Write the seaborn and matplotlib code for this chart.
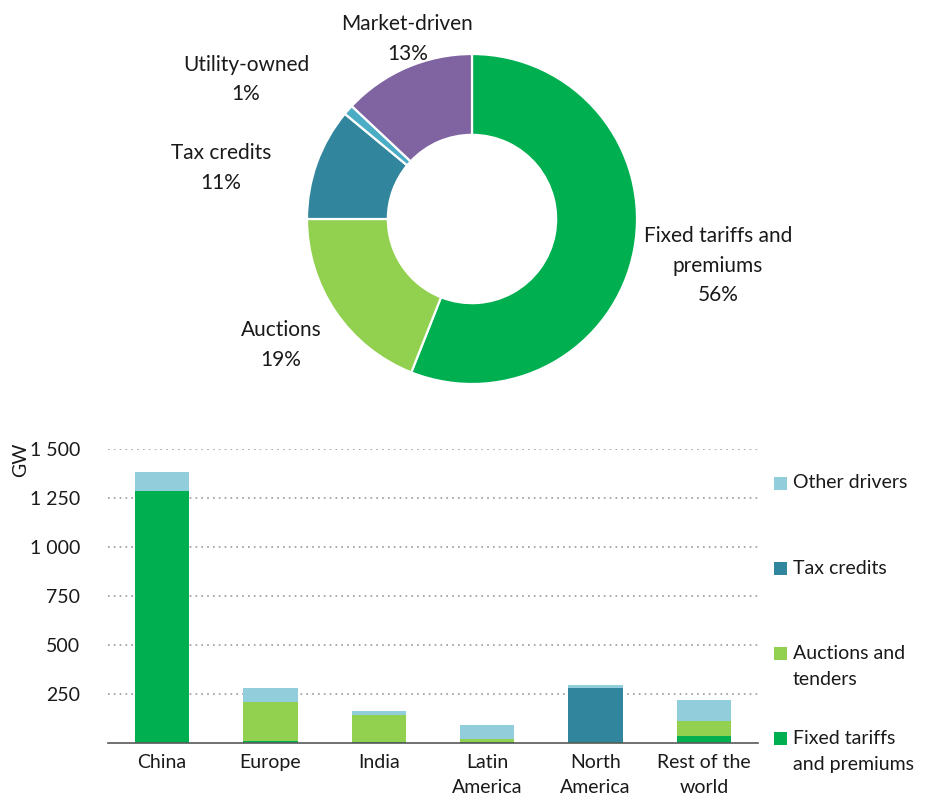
import matplotlib
matplotlib.use("Agg")
import matplotlib.pyplot as plt
from matplotlib.patches import Rectangle
import numpy as np
import pandas as pd
import seaborn as sns

# Share of renewable capacity additions by policy driver (donut)
pie_labels = ["Fixed tariffs and\npremiums", "Auctions", "Tax credits", "Utility-owned", "Market-driven"]
pie_shares = [56, 19, 11, 1, 13]
pie_colors = ["#00AF50", "#92D050", "#31859C", "#4BACC6", "#8064A2"]

# Capacity additions by region and driver (GW, stacked bars)
regions = ["China", "Europe", "India", "Latin\nAmerica", "North\nAmerica", "Rest of the\nworld"]
fixed_tariffs = [1286, 12, 3, 3, 3, 37]
auctions = [0, 199, 138, 16, 2, 77]
tax_credits = [0, 0, 0, 0, 277, 0]
other_drivers = [95, 71, 22, 74, 14, 105]

series_names = ["Fixed tariffs\nand premiums", "Auctions and\ntenders", "Tax credits", "Other drivers"]
series_colors = ["#00AF50", "#92D050", "#31859C", "#92CDDC"]

y_ticks = [250, 500, 750, 1000, 1250, 1500]
y_ticklabels = ["250", "500", "750", "1 000", "1 250", "1 500"]

sns.set_theme(style="white")
plt.rcParams["font.family"] = ["Lato", "DejaVu Sans"]
FS = 14
TXT = "#1a1a1a"

W, H = 928, 798
fig = plt.figure(figsize=(W / 100, H / 100), dpi=100)


def fx(px):
    return px / W


def fy(py):
    return 1 - py / H


# ---- Donut ----
cx, cy, R = 472, 219, 165
ax_pie = fig.add_axes([fx(cx - R), fy(cy + R), 2 * R / W, 2 * R / H])
ax_pie.pie(pie_shares, colors=pie_colors, startangle=90, counterclock=False,
           radius=1.0, wedgeprops=dict(width=0.49, edgecolor="white", linewidth=1.6))
ax_pie.set_xlim(-1, 1)
ax_pie.set_ylim(-1, 1)
ax_pie.set_aspect("equal")
ax_pie.axis("off")

# label anchor points in pixels (centre of each text block)
label_pos = [(718, 265.5), (281, 345), (221, 168), (246, 79.5), (407.5, 39)]
for name, share, (px, py) in zip(pie_labels, pie_shares, label_pos):
    fig.text(fx(px), fy(py), f"{name}\n{share}%", ha="center", va="center",
             fontsize=15, color=TXT, linespacing=1.62, multialignment="center")

# ---- Stacked bars ----
ax = fig.add_axes([fx(108), fy(743), 650 / W, 294 / H])
df = pd.DataFrame({"region": regions, "fixed": fixed_tariffs, "auctions": auctions,
                   "tax": tax_credits, "other": other_drivers})
layers = ["fixed", "auctions", "tax", "other"]
cum = df[layers].cumsum(axis=1)
# draw cumulative totals from the top layer down so each segment shows its own colour
for layer, color in reversed(list(zip(layers, series_colors))):
    sns.barplot(x=df["region"], y=cum[layer], color=color, width=0.5,
                saturation=1, ax=ax, linewidth=0, order=regions)

ax.set_xlim(-0.5, len(regions) - 0.5)
ax.set_ylim(0, 1500)
ax.set_yticks(y_ticks)
ax.set_yticklabels(y_ticklabels, fontsize=FS, color=TXT)
ax.tick_params(axis="y", length=0, pad=20)
ax.tick_params(axis="x", length=0, pad=8, labelsize=FS, labelcolor=TXT)
for lbl in ax.get_xticklabels():
    lbl.set_linespacing(1.55)
ax.set_xlabel("")
ax.set_ylabel("")
ax.yaxis.grid(True, linestyle=(0, (1, 2.5)), color="#999999", linewidth=1.2)
ax.set_axisbelow(True)
for s in ["top", "right", "left"]:
    ax.spines[s].set_visible(False)
ax.spines["bottom"].set_color("#595959")
ax.spines["bottom"].set_linewidth(1.2)

fig.text(fx(21), fy(460), "GW", rotation=90, ha="center", va="center", fontsize=FS, color=TXT)

# ---- Legend ----
legend_rows = [("Other drivers", "#92CDDC", 483), ("Tax credits", "#31859C", 568),
               ("Auctions and\ntenders", "#92D050", 653), ("Fixed tariffs\nand premiums", "#00AF50", 738)]
line_gap = 27
for text, color, py in legend_rows:
    fig.patches.append(Rectangle((fx(774), fy(py + 6.5)), 13 / W, 13 / H,
                                 transform=fig.transFigure, facecolor=color, edgecolor="none"))
    n = text.count("\n") + 1
    fig.text(fx(793), fy(py + (n - 1) * line_gap / 2), text, ha="left", va="center",
             fontsize=FS, color=TXT, linespacing=1.68)

fig.savefig("out.png", dpi=100)
